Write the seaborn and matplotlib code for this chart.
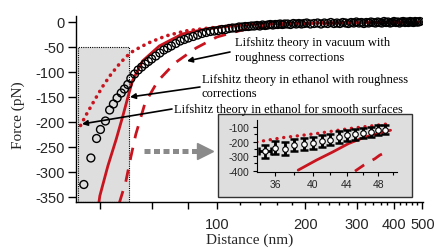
import numpy as np
import pandas as pd
import matplotlib
matplotlib.use("Agg")
import matplotlib.pyplot as plt
import seaborn as sns
from matplotlib.patches import Rectangle
from matplotlib.lines import Line2D
from matplotlib.ticker import FixedLocator, NullFormatter, FixedFormatter

# ---------------- data ----------------
# measured force (open circles)
circ_d = [35.3, 37.3, 39.0, 40.2, 41.8, 43.2, 44.5, 45.8, 47.3, 48.5, 49.8,
          51, 52.5, 54, 55.5, 57, 58.5, 60, 62, 64, 66, 68, 70, 72.5, 75, 77.5, 80,
          83, 86, 89, 92, 95, 98,
          101, 104, 107, 110, 113, 116, 119, 122, 125, 128, 131, 134, 137, 140, 143,
          146, 149, 152, 155, 158, 161, 164, 167, 170, 174, 178, 182, 186, 190, 194, 198,
          202, 208, 214, 220, 226, 232, 238, 244, 250, 256, 262, 268, 274, 280, 286,
          292, 298, 304, 310, 316, 322, 328, 334, 340, 346, 352, 358, 364, 370, 376,
          382, 388, 394, 400, 406, 412, 418, 424, 430, 436, 442, 448, 454, 460, 466,
          472, 478, 484, 490]
circ_f = [-325, -272, -233, -215, -198, -176, -164, -152, -142, -134, -125,
          -113, -104, -96, -90, -84, -79, -74, -68, -62, -56, -52, -48, -43, -38, -35, -32,
          -29, -26, -23, -21, -19, -18,
          -17, -15, -15, -13, -12, -12, -10, -10, -9, -9, -8, -8, -7, -8, -6,
          -7, -6, -5, -6, -5, -5, -4, -5, -4, -4, -5, -3, -4, -3, -4, -3,
          -2, -4, -3, -2, -4, -2, -3, -1, -3, -2, -3, -1, -2, -3, -1,
          -2, 0, -2, -1, -3, -1, -2, 0, -1, -2, 0, -1, -2, 1,
          -1, 0, -2, -1, 1, -1, 0, -2, 0, 1, -1, 0, -1, 1, 0,
          -1, 1, 0, 0, 1]

# Lifshitz theory in vacuum with roughness corrections (dotted)
vac_d = [34.4, 36, 38.5, 41, 43.5, 46, 48.5, 51, 55, 59, 67, 78, 94, 110, 140, 200, 300, 480]
vac_f = [-207, -185, -155, -128, -106, -88, -73, -61, -50, -41, -28, -18, -12, -8, -4, -2, -1, -0.5]

# Lifshitz theory in ethanol with roughness corrections (solid)
eth_d = [39.7, 40, 42.6, 45.5, 47.9, 49.8, 51.7, 55.9, 63.7, 76.3, 91.6, 107, 130, 170, 250, 400, 495]
eth_f = [-362, -348, -288, -234, -188, -151, -117, -78, -48, -24, -14, -9, -5, -3, -1.5, -0.5, -0.3]

# Lifshitz theory in ethanol for smooth surfaces (dashed)
smo_d = [46.6, 49, 51, 53, 57, 63, 72, 85, 100, 115, 130, 160, 200, 300, 495]
smo_f = [-362, -320, -270, -225, -162, -118, -82, -52, -30, -20, -12, -6, -3, -1.5, -0.5]

# inset: experimental points with error bars
ins_d = [35, 36, 37, 38, 39, 40, 41, 42, 43, 44, 45, 46, 47, 48, 49]
ins_f = [-266, -241, -248, -224, -217, -208, -195, -186, -167, -155, -148, -139, -132, -121, -116]
ins_err = [46, 45, 45, 42, 42, 42, 40, 40, 40, 38, 38, 36, 36, 34, 34]
ins_xerr = [0.6, 0, 0, 0, 0, 0, 0, 0, 0, 0, 0, 0, 0, 0, 0]
# inset theory curves
ivac_d = [34.2, 36.8, 40.4, 44.2, 49.6]
ivac_f = [-202, -172, -144, -110, -75]
ieth_d = [38.4, 40.4, 42.3, 44.2, 46.1, 48.2, 49.7]
ieth_f = [-397, -328, -271, -213, -172, -139, -121]
ismo_d = [45.0, 46.1, 47.6, 48.2, 49.6]
ismo_f = [-404, -363, -317, -294, -259]

main_xticks = [40, 60, 80, 100, 200, 300, 400, 500]
main_xlabels = ["", "", "", "100", "200", "300", "400", "500"]
main_yticks = [0, -50, -100, -150, -200, -250, -300, -350]
ins_xticks = [36, 40, 44, 48]
ins_yticks = [-100, -200, -300, -400]

# ---------------- style ----------------
sns.set_theme(style="white")
plt.rcParams['font.family'] = ['Liberation Sans', 'DejaVu Sans']
RED = "#c8141e"
GRAY = "#dedede"
SERIF = ['Liberation Serif', 'DejaVu Serif']

W, H = 435, 253
fig = plt.figure(figsize=(W / 100, H / 100), dpi=100)
fig.patch.set_facecolor("white")

def fx(px):
    return px / W

def fy(py):
    return 1 - py / H

ax = fig.add_axes([fx(76), fy(203), fx(423) - fx(76), fy(16.7) - fy(203)])
ax.set_facecolor("white")
ax.set_xscale("log")
ax.set_xlim(33.2, 502)
ax.set_ylim(-360, 12.6)

# shaded zoom region
ax.add_patch(Rectangle((33.6, -360), 50.3 - 33.6, 310, facecolor=GRAY,
                       edgecolor="black", linestyle=(0, (1, 1)), lw=0.8, zorder=0.5))

df_vac = pd.DataFrame({"d": vac_d, "f": vac_f})
df_eth = pd.DataFrame({"d": eth_d, "f": eth_f})
df_smo = pd.DataFrame({"d": smo_d, "f": smo_f})
df_c = pd.DataFrame({"d": circ_d, "f": circ_f})

sns.lineplot(data=df_vac, x="d", y="f", ax=ax, color=RED, lw=2.6, sort=False,
             linestyle=(0, (0.05, 1.75)), dash_capstyle="round", zorder=2)
sns.lineplot(data=df_eth, x="d", y="f", ax=ax, color=RED, lw=2.0, sort=False, zorder=2)
sns.lineplot(data=df_smo, x="d", y="f", ax=ax, color=RED, lw=2.0, sort=False,
             linestyle=(0, (4.5, 3.5)), zorder=2)
sns.scatterplot(data=df_c, x="d", y="f", ax=ax, marker="o", s=32,
                facecolor="none", edgecolor="black", linewidth=1.0, zorder=3)

for s in ["top", "right"]:
    ax.spines[s].set_visible(False)
for s in ["left", "bottom"]:
    ax.spines[s].set_color("black")
    ax.spines[s].set_linewidth(1.0)

ax.xaxis.set_major_locator(FixedLocator(main_xticks))
ax.xaxis.set_major_formatter(FixedFormatter(main_xlabels))
ax.xaxis.set_minor_locator(FixedLocator(list(range(120, 500, 20))))
ax.xaxis.set_minor_formatter(NullFormatter())
ax.set_yticks(main_yticks)
ax.set_yticklabels([str(v) for v in main_yticks])
ax.tick_params(axis="y", which="major", direction="out", length=6, width=1,
               color="black", labelsize=10.5, pad=2, left=True)
ax.tick_params(axis="x", which="major", direction="out", length=5, width=1,
               color="black", labelsize=10.5, pad=6, bottom=True)
ax.tick_params(axis="x", which="minor", direction="out", length=2.5, width=1,
               color="black", bottom=True)
ax.set_xlabel("Distance (nm)", family=SERIF, fontsize=11, labelpad=1)
ax.set_ylabel("Force (pN)", family=SERIF, fontsize=11, labelpad=2)
ax.yaxis.set_label_coords(-0.148, 0.47)

# annotations
tkw = dict(family=SERIF, fontsize=9, va="center", ha="left", color="black")
fig.text(fx(235), fy(43), "Lifshitz theory in vacuum with", **tkw)
fig.text(fx(235), fy(58), "roughness corrections", **tkw)
fig.text(fx(202), fy(80), "Lifshitz theory in ethanol with roughness", **tkw)
fig.text(fx(202), fy(94), "corrections", **tkw)
fig.text(fx(174), fy(110), "Lifshitz theory in ethanol for smooth surfaces", **tkw)

akw = dict(arrowstyle="-|>", color="black", lw=1.2, mutation_scale=8, shrinkA=0, shrinkB=0)
for (x0, y0, x1, y1) in [(230, 53, 187, 62), (200, 88, 130, 98), (172, 110, 82, 125)]:
    ax.annotate("", xy=(x1, H - y1), xycoords="figure pixels",
                xytext=(x0, H - y0), textcoords="figure pixels", arrowprops=akw)

# big gray dotted arrow
fig.add_artist(Line2D([fx(144), fx(199)], [fy(152.3), fy(152.3)], transform=fig.transFigure,
                      color="#8a8a8a", lw=3.6, linestyle=(0, (1.2, 0.7)),
                      solid_capstyle="butt", dash_capstyle="butt"))
fig.add_artist(Line2D([fx(205)], [fy(152.3)], transform=fig.transFigure,
                      color="#8a8a8a", marker=">", markersize=11, lw=0))

# inset frame
fig.add_artist(Rectangle((fx(218), fy(198)), fx(412) - fx(218), fy(115) - fy(198),
                         transform=fig.transFigure, facecolor=GRAY,
                         edgecolor="#333333", lw=1.0, zorder=3))
axi = fig.add_axes([fx(256.7), fy(173), fx(397) - fx(256.7), fy(121) - fy(173)], zorder=4)
axi.set_facecolor(GRAY)
axi.set_xscale("log")
axi.set_xlim(34.2, 50.6)
axi.set_ylim(-410, -50)
sns.lineplot(x=ivac_d, y=ivac_f, ax=axi, color=RED, lw=2.4, sort=False,
             linestyle=(0, (0.05, 2.0)), dash_capstyle="round")
sns.lineplot(x=ieth_d, y=ieth_f, ax=axi, color=RED, lw=2.0, sort=False)
sns.lineplot(x=ismo_d, y=ismo_f, ax=axi, color=RED, lw=2.0, sort=False,
             linestyle=(0, (4.0, 3.5)))
axi.errorbar(ins_d, ins_f, yerr=ins_err, xerr=ins_xerr, fmt="none", ecolor="black",
             elinewidth=2.0, capsize=2.8, capthick=1.8, zorder=3)
sns.scatterplot(x=ins_d, y=ins_f, ax=axi, marker="o", s=16, color="white",
                edgecolor="black", linewidth=0.8, zorder=4)
for s in ["top", "right"]:
    axi.spines[s].set_visible(False)
for s in ["left", "bottom"]:
    axi.spines[s].set_color("black")
    axi.spines[s].set_linewidth(0.8)
axi.xaxis.set_major_locator(FixedLocator(ins_xticks))
axi.xaxis.set_major_formatter(FixedFormatter([str(v) for v in ins_xticks]))
axi.xaxis.set_minor_locator(FixedLocator([38, 42, 46, 50]))
axi.xaxis.set_minor_formatter(NullFormatter())
axi.yaxis.set_major_locator(FixedLocator(ins_yticks))
axi.yaxis.set_major_formatter(FixedFormatter([str(v) for v in ins_yticks]))
axi.yaxis.set_minor_locator(FixedLocator([-150, -250, -350]))
axi.tick_params(which="major", direction="out", length=3, width=0.8, color="black",
                labelsize=7.5, pad=2, left=True, bottom=True)
axi.tick_params(which="minor", direction="out", length=2, width=0.8, color="black",
                left=True, bottom=True)
axi.set_xlabel("")
axi.set_ylabel("")

fig.savefig("out.png", dpi=100)
